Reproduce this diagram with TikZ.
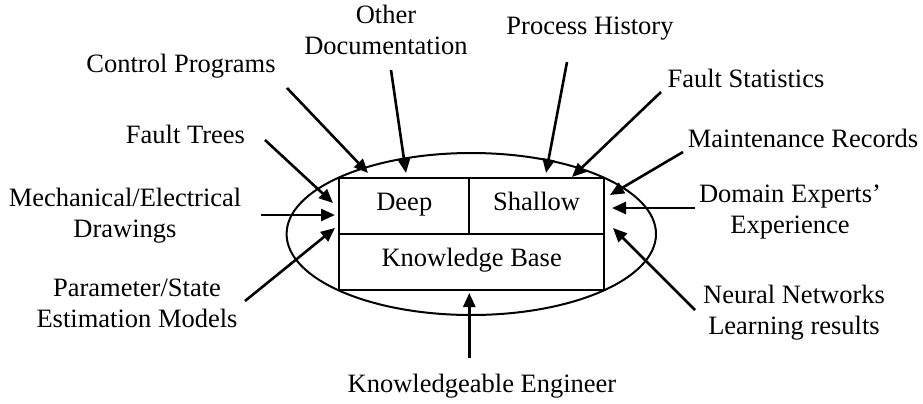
\documentclass[tikz,border=0pt]{standalone}
\usepackage{fontspec}
\setmainfont{Liberation Serif}
\usetikzlibrary{arrows.meta,shapes.geometric}
\begin{document}
\begin{tikzpicture}[x=0.5pt,y=-0.5pt,
  lbl/.style={inner sep=0pt,anchor=base,align=center,font=\fontsize{13.25}{15.3}\selectfont},
  cell/.style={draw,line width=1pt,inner sep=0pt,minimum height=28pt,text height=0.7em,text depth=0.25em,font=\fontsize{13.25}{15.3}\selectfont},
  feed/.style={line width=1.3pt,-{Triangle[length=7pt,width=6pt]}}]
\useasboundingbox (0,0) rectangle (923,403);
% ellipse
\node[draw,ellipse,line width=1pt,inner sep=0pt,minimum width=184.7pt,minimum height=81pt] (ell) at (471.3,234) {};
% knowledge base cells
\node[cell,minimum width=65pt] (deep) at (404.3,206) {Deep};
\node[cell,minimum width=67.35pt] (shallow) at (536.65,206) {Shallow};
\node[cell,minimum width=132.35pt] (kb) at (471.65,262) {Knowledge Base};
% labels (anchor = baseline of last line)
\node[lbl] (lcp) at (181,72) {Control Programs};
\node[lbl] (lod) at (386,54) {Other\\Documentation};
\node[lbl] (lph) at (590,34) {Process History};
\node[lbl] (lfs) at (746,87) {Fault Statistics};
\node[lbl] (lmr) at (803,147) {Maintenance Records};
\node[lbl] (lft) at (185.5,143) {Fault Trees};
\node[lbl] (lme) at (125,237) {Mechanical/Electrical\\Drawings};
\node[lbl] (lps) at (137,327) {Parameter/State\\Estimation Models};
\node[lbl] (lde) at (790,233) {Domain Experts’\\Experience};
\node[lbl] (lnn) at (794,334) {Neural Networks\\Learning results};
\node[lbl] (lke) at (482,392) {Knowledgeable Engineer};
% arrow ends
\coordinate (cp0) at (287,88);   \coordinate (cp1) at (368,173);
\coordinate (od0) at (391,70);   \coordinate (od1) at (406,173);
\coordinate (ft0) at (265,140);  \coordinate (ft1) at (333,203);
\coordinate (me0) at (261,215);  \coordinate (me1) at (335,215);
\coordinate (ps0) at (245,301);  \coordinate (ps1) at (335,228);
\coordinate (ph0) at (567,62);   \coordinate (ph1) at (546,173);
\coordinate (fs0) at (661,92);   \coordinate (fs1) at (572,177);
\coordinate (mr0) at (683,152);  \coordinate (mr1) at (610,195);
\coordinate (de0) at (695,208);  \coordinate (de1) at (612,208);
\coordinate (nn0) at (695,310);  \coordinate (nn1) at (613,228);
\coordinate (ke0) at (469.3,358); \coordinate (ke1) at (469.3,293);
\foreach \a in {cp,od,ft,me,ps,ph,fs,mr,de,nn,ke}
  \draw[feed] (\a0) -- (\a1);
\end{tikzpicture}
\end{document}
